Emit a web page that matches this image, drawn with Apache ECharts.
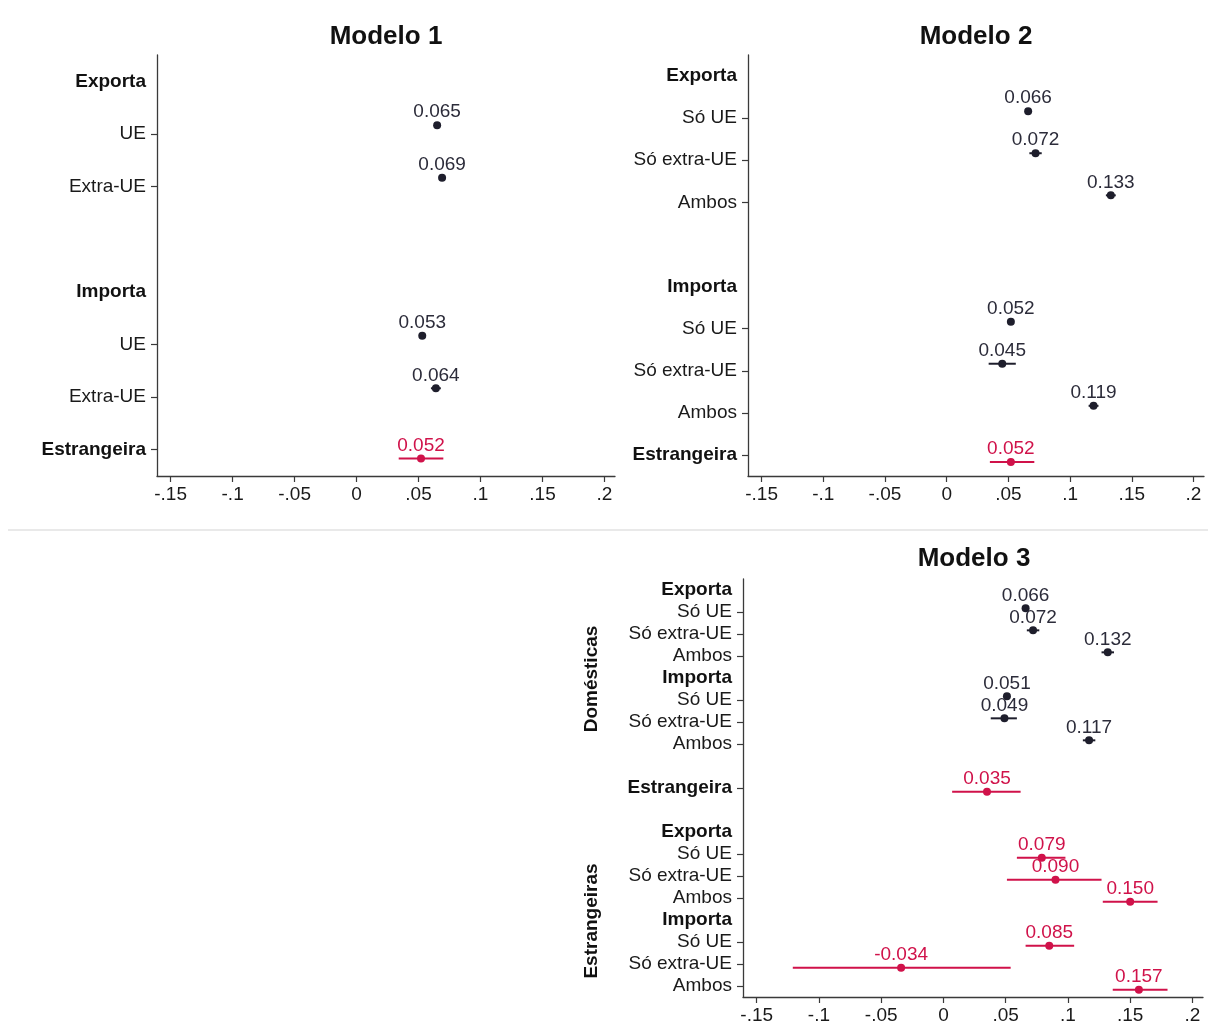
<!DOCTYPE html>
<html>
<head>
<meta charset="utf-8">
<title>Modelos 1-3</title>
<script src="https://cdn.jsdelivr.net/npm/echarts@6/dist/echarts.min.js"></script>
<style>
  html, body { margin: 0; padding: 0; background: #ffffff; }
  #chart { width: 1208px; height: 1025px; }
</style>
</head>
<body>
<div id="chart"></div>
<script>
// ---- x-axis ticks (Stata-style labels) ----
const xTickValues = [-0.15, -0.1, -0.05, 0, 0.05, 0.1, 0.15, 0.2];
const xTickLabels = ['-.15', '-.1', '-.05', '0', '.05', '.1', '.15', '.2'];

// ---- Modelo 1 ----
const m1Categories = ['Exporta', 'UE', 'Extra-UE', '', 'Importa', 'UE', 'Extra-UE', 'Estrangeira'];
const m1DomRows = [1, 2, 5, 6];
const m1DomCoef = [0.065, 0.069, 0.053, 0.064];
const m1DomLow  = [0.063, 0.067, 0.051, 0.060];
const m1DomHigh = [0.067, 0.071, 0.055, 0.068];
const m1ForRows = [7];
const m1ForCoef = [0.052];
const m1ForLow  = [0.034];
const m1ForHigh = [0.070];

// ---- Modelo 2 ----
const m2Categories = ['Exporta', 'Só UE', 'Só extra-UE', 'Ambos', '', 'Importa', 'Só UE', 'Só extra-UE', 'Ambos', 'Estrangeira'];
const m2DomRows = [1, 2, 3, 6, 7, 8];
const m2DomCoef = [0.066, 0.072, 0.133, 0.052, 0.045, 0.119];
const m2DomLow  = [0.064, 0.067, 0.129, 0.050, 0.034, 0.115];
const m2DomHigh = [0.068, 0.077, 0.137, 0.054, 0.056, 0.123];
const m2ForRows = [9];
const m2ForCoef = [0.052];
const m2ForLow  = [0.035];
const m2ForHigh = [0.071];

// ---- Modelo 3 ----
const m3Categories = ['Exporta', 'Só UE', 'Só extra-UE', 'Ambos', 'Importa', 'Só UE', 'Só extra-UE', 'Ambos', '',
  'Estrangeira', '', 'Exporta', 'Só UE', 'Só extra-UE', 'Ambos', 'Importa', 'Só UE', 'Só extra-UE', 'Ambos'];
const m3DomRows = [1, 2, 3, 5, 6, 7];
const m3DomCoef = [0.066, 0.072, 0.132, 0.051, 0.049, 0.117];
const m3DomLow  = [0.064, 0.067, 0.127, 0.049, 0.038, 0.112];
const m3DomHigh = [0.068, 0.077, 0.137, 0.053, 0.059, 0.122];
const m3ForRows = [9, 12, 13, 14, 16, 17, 18];
const m3ForCoef = [0.035, 0.079, 0.090, 0.150, 0.085, -0.034, 0.157];
const m3ForLow  = [0.007, 0.059, 0.051, 0.128, 0.066, -0.121, 0.136];
const m3ForHigh = [0.062, 0.098, 0.127, 0.172, 0.105, 0.054, 0.180];

const headerLabels = ['Exporta', 'Importa'];
const boldLabels = ['Exporta', 'Importa', 'Estrangeira'];
const groupLabels = ['Domésticas', 'Estrangeiras'];

// ---- styling ----
const FONT = '"Liberation Sans", Arial, Helvetica, sans-serif';
const FS = 19;
const DOM_COLOR = '#1e1e2c';
const DOM_TEXT = '#2c2c3a';
const FOR_COLOR = '#d0124a';
const AXIS_COLOR = '#3a3a3a';
const X_MIN = -0.161;
const X_MAX = 0.2085;

const chart = echarts.init(document.getElementById('chart'), null, { renderer: 'canvas' });

function makeData(rows, coef, low, high) {
  return rows.map((r, i) => [coef[i], low[i], high[i], r]);
}

// Draws one coefficient: confidence interval, point and value label.
function makeRenderer(color, textColor, shift) {
  return function (params, api) {
    const b = api.value(0);
    const lo = api.value(1);
    const hi = api.value(2);
    const row = api.value(3);
    const c = api.coord([b, row]);
    const band = api.size([0, 1])[1];
    const y = c[1] + shift * band;
    const xLo = api.coord([lo, row])[0];
    const xHi = api.coord([hi, row])[0];
    return {
      type: 'group',
      children: [
        { type: 'line', shape: { x1: xLo, y1: y, x2: xHi, y2: y },
          style: { stroke: color, lineWidth: 2 } },
        { type: 'circle', shape: { cx: c[0], cy: y, r: 4 },
          style: { fill: color } },
        { type: 'text', x: c[0], y: y - 13,
          style: { text: b.toFixed(3), align: 'center', verticalAlign: 'middle',
                   fill: textColor, font: FS + 'px ' + FONT } }
      ]
    };
  };
}

function xAxisFor(gridIndex) {
  return {
    type: 'value', gridIndex, min: X_MIN, max: X_MAX,
    splitLine: { show: false },
    axisLine: { show: true, onZero: false, lineStyle: { color: AXIS_COLOR, width: 1.3 } },
    axisTick: { show: true, length: 6, lineStyle: { color: AXIS_COLOR, width: 1.2 },
                customValues: xTickValues },
    axisLabel: {
      customValues: xTickValues, margin: 9, color: '#1a1a1a', fontSize: FS, fontFamily: FONT,
      formatter: (v) => {
        const i = xTickValues.findIndex(t => Math.abs(t - v) < 1e-9);
        return i >= 0 ? xTickLabels[i] : '';
      }
    }
  };
}

function yAxisFor(gridIndex, cats) {
  return {
    type: 'category', gridIndex, data: cats, inverse: true,
    axisLine: { show: true, onZero: false, lineStyle: { color: AXIS_COLOR, width: 1.3 } },
    axisTick: {
      show: true, length: 6, alignWithLabel: true,
      lineStyle: { color: AXIS_COLOR, width: 1.2 },
      interval: (i) => cats[i] !== '' && headerLabels.indexOf(cats[i]) < 0
    },
    axisLabel: {
      interval: 0, margin: 11, color: '#1a1a1a', fontSize: FS, fontFamily: FONT,
      formatter: (v) => v === '' ? '' : (boldLabels.indexOf(v) >= 0 ? '{b|' + v + '}' : v),
      rich: { b: { fontWeight: 'bold', fontSize: FS, fontFamily: FONT, color: '#111' } }
    },
    splitLine: { show: false }
  };
}

function series(gi, rows, coef, low, high, color, textColor, shift) {
  return {
    type: 'custom', xAxisIndex: gi, yAxisIndex: gi,
    data: makeData(rows, coef, low, high),
    encode: { x: [0, 1, 2], y: 3 },
    renderItem: makeRenderer(color, textColor, shift),
    silent: true
  };
}

const SHIFT = 1 / 6;
const titleStyle = { fontSize: 26, fontWeight: 'bold', fontFamily: FONT, color: '#111' };

const option = {
  backgroundColor: '#ffffff',
  animation: false,
  title: [
    { text: 'Modelo 1', left: 386, top: 24, textAlign: 'center', padding: 0, textStyle: titleStyle },
    { text: 'Modelo 2', left: 976, top: 24, textAlign: 'center', padding: 0, textStyle: titleStyle },
    { text: 'Modelo 3', left: 974, top: 546, textAlign: 'center', padding: 0, textStyle: titleStyle }
  ],
  grid: [
    { left: 157, top: 55, width: 458, height: 421 },
    { left: 748, top: 55, width: 456, height: 421 },
    { left: 743, top: 579, width: 460, height: 420 }
  ],
  xAxis: [xAxisFor(0), xAxisFor(1), xAxisFor(2)],
  yAxis: [yAxisFor(0, m1Categories), yAxisFor(1, m2Categories), yAxisFor(2, m3Categories)],
  series: [
    series(0, m1DomRows, m1DomCoef, m1DomLow, m1DomHigh, DOM_COLOR, DOM_TEXT, -SHIFT),
    series(0, m1ForRows, m1ForCoef, m1ForLow, m1ForHigh, FOR_COLOR, FOR_COLOR, SHIFT),
    series(1, m2DomRows, m2DomCoef, m2DomLow, m2DomHigh, DOM_COLOR, DOM_TEXT, -SHIFT),
    series(1, m2ForRows, m2ForCoef, m2ForLow, m2ForHigh, FOR_COLOR, FOR_COLOR, SHIFT),
    series(2, m3DomRows, m3DomCoef, m3DomLow, m3DomHigh, DOM_COLOR, DOM_TEXT, -SHIFT),
    series(2, m3ForRows, m3ForCoef, m3ForLow, m3ForHigh, FOR_COLOR, FOR_COLOR, SHIFT)
  ],
  graphic: [
    // thin rule between the upper and lower panels
    { type: 'line', shape: { x1: 8, y1: 530, x2: 1208, y2: 530 },
      style: { stroke: '#e2e2e2', lineWidth: 1.5 }, silent: true },
    // group titles along the left of Modelo 3
    { type: 'text', x: 592, y: 679, rotation: Math.PI / 2,
      style: { text: groupLabels[0], align: 'center', verticalAlign: 'middle',
               font: 'bold ' + FS + 'px ' + FONT, fill: '#111' } },
    { type: 'text', x: 592, y: 921, rotation: Math.PI / 2,
      style: { text: groupLabels[1], align: 'center', verticalAlign: 'middle',
               font: 'bold ' + FS + 'px ' + FONT, fill: '#111' } }
  ]
};

chart.setOption(option);
</script>
</body>
</html>
